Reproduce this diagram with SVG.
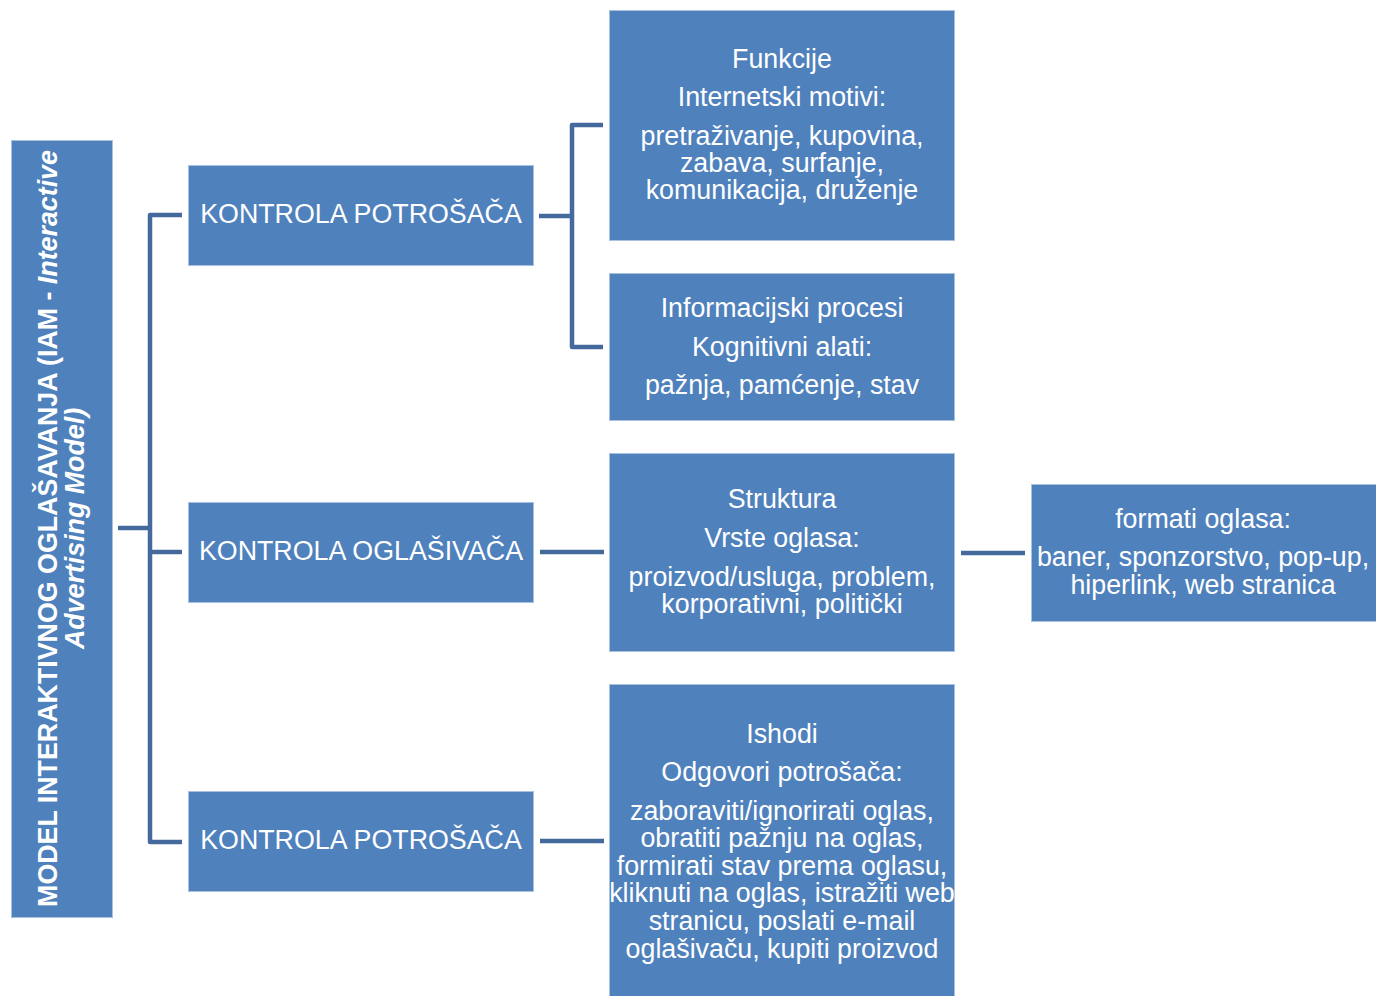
<svg xmlns="http://www.w3.org/2000/svg" width="1376" height="996" viewBox="0 0 1376 996">
<style>
.box{fill:#4F81BD;stroke:#A9C1DF;stroke-width:1}
.t{font-family:"Liberation Sans",Arial,sans-serif;font-size:26.8px;fill:#FFFFFF;text-anchor:middle}
.v{font-family:"Liberation Sans",Arial,sans-serif;font-size:26.8px;fill:#FFFFFF;font-weight:bold;text-anchor:middle}
.c{fill:none;stroke:#44699C;stroke-width:4.5;stroke-linejoin:round}
</style>
<rect width="1376" height="996" fill="#FFFFFF"/>
<g id="connectors">
<path class="c" d="M182,215 H150 V842 H182"/>
<path class="c" d="M118,528 H150"/>
<path class="c" d="M150,552 H182"/>
<path class="c" d="M603,125 H572 V347 H603"/>
<path class="c" d="M539,216 H572"/>
<path class="c" d="M540,552 H604"/>
<path class="c" d="M540,841 H604"/>
<path class="c" d="M961,553 H1025"/>
</g>
<g id="root">
<rect class="box" x="11.5" y="140.5" width="101" height="777"/>
<text class="v" transform="translate(57,528.5) rotate(-90)">MODEL INTERAKTIVNOG OGLAŠAVANJA (IAM - <tspan font-style="italic">Interactive</tspan></text>
<text class="v" font-style="italic" transform="translate(84,528.5) rotate(-90)">Advertising Model)</text>
</g>
<g id="kontrola1">
<rect class="box" x="188.5" y="165.5" width="345" height="100"/>
<text class="t" x="361" y="223">KONTROLA POTROŠAČA</text>
</g>
<g id="kontrola2">
<rect class="box" x="188.5" y="502.5" width="345" height="100"/>
<text class="t" x="361" y="560">KONTROLA OGLAŠIVAČA</text>
</g>
<g id="kontrola3">
<rect class="box" x="188.5" y="791.5" width="345" height="100"/>
<text class="t" x="361" y="849">KONTROLA POTROŠAČA</text>
</g>
<g id="funkcije">
<rect class="box" x="609.5" y="10.5" width="345" height="230"/>
<text class="t" x="782" y="68">Funkcije</text>
<text class="t" x="782" y="106">Internetski motivi:</text>
<text class="t" x="782" y="145">pretraživanje, kupovina,</text>
<text class="t" x="782" y="172">zabava, surfanje,</text>
<text class="t" x="782" y="199">komunikacija, druženje</text>
</g>
<g id="informacijski">
<rect class="box" x="609.5" y="273.5" width="345" height="147"/>
<text class="t" x="782" y="317">Informacijski procesi</text>
<text class="t" x="782" y="356">Kognitivni alati:</text>
<text class="t" x="782" y="394">pažnja, pamćenje, stav</text>
</g>
<g id="struktura">
<rect class="box" x="609.5" y="453.5" width="345" height="198"/>
<text class="t" x="782" y="508">Struktura</text>
<text class="t" x="782" y="547">Vrste oglasa:</text>
<text class="t" x="782" y="586">proizvod/usluga, problem,</text>
<text class="t" x="782" y="613">korporativni, politički</text>
</g>
<g id="formati">
<rect class="box" x="1031.5" y="484.5" width="346" height="137"/>
<text class="t" x="1203" y="528">formati oglasa:</text>
<text class="t" x="1203" y="566">baner, sponzorstvo, pop-up,</text>
<text class="t" x="1203" y="594">hiperlink, web stranica</text>
</g>
<g id="ishodi">
<rect class="box" x="609.5" y="684.5" width="345" height="312"/>
<text class="t" x="782" y="743">Ishodi</text>
<text class="t" x="782" y="781">Odgovori potrošača:</text>
<text class="t" x="782" y="820">zaboraviti/ignorirati oglas,</text>
<text class="t" x="782" y="847">obratiti pažnju na oglas,</text>
<text class="t" x="782" y="875">formirati stav prema oglasu,</text>
<text class="t" x="782" y="902">kliknuti na oglas, istražiti web</text>
<text class="t" x="782" y="930">stranicu, poslati e-mail</text>
<text class="t" x="782" y="958">oglašivaču, kupiti proizvod</text>
</g>
</svg>
